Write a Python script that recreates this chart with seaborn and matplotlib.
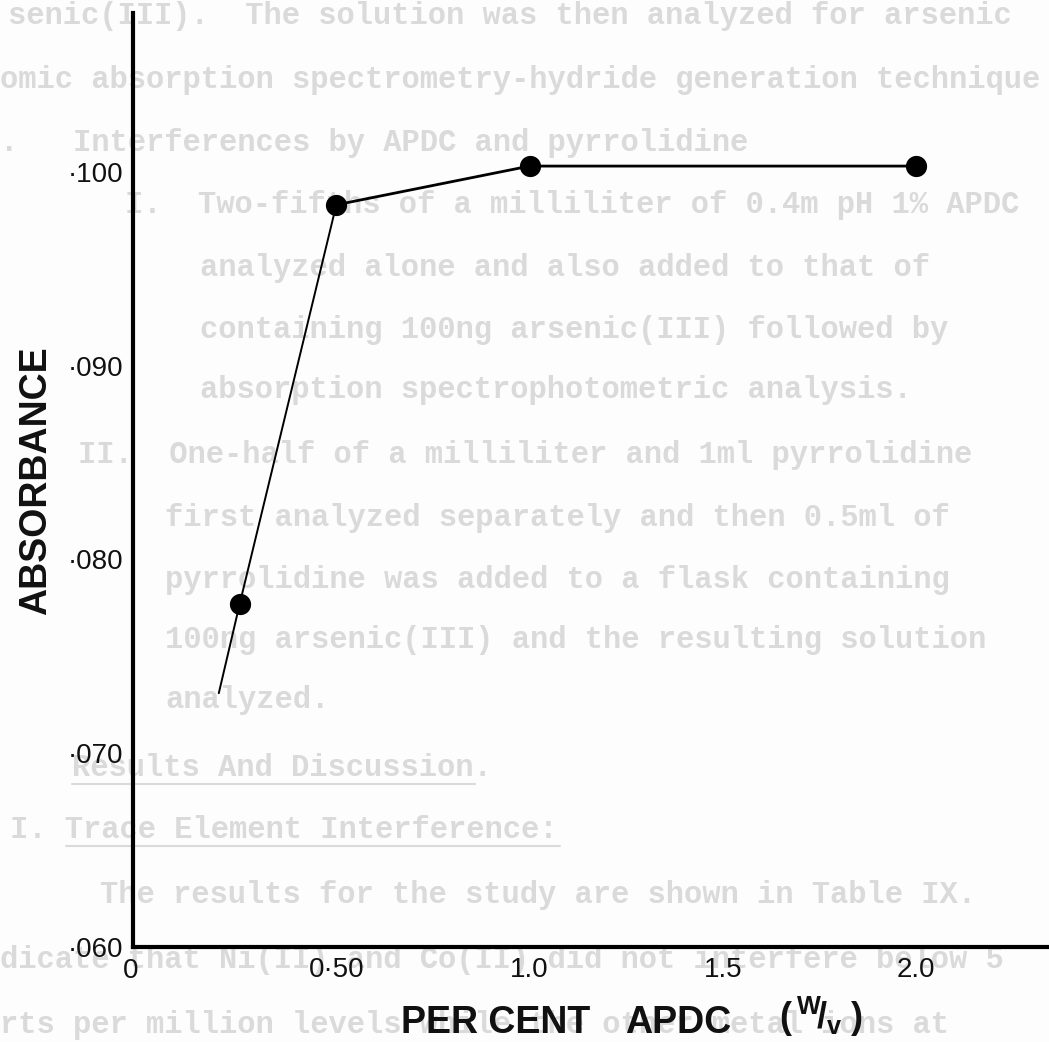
import matplotlib
matplotlib.use("Agg")
import matplotlib.pyplot as plt
import seaborn as sns
from matplotlib.lines import Line2D

# ---- data ---------------------------------------------------------------
apdc_percent = [0.25, 0.50, 1.00, 2.00]
absorbance = [0.0777, 0.0983, 0.1003, 0.1003]

# hand-drawn curve: steep branch (extended a little below the first reading)
steep_percent = [0.196, 0.25, 0.50]
steep_absorbance = [0.0731, 0.0777, 0.0983]
# plateau branch
flat_percent = [0.50, 1.00, 2.00]
flat_absorbance = [0.0983, 0.1003, 0.1003]

y_ticks = [0.060, 0.065, 0.070, 0.075, 0.080, 0.085, 0.090, 0.095, 0.100, 0.105]
y_tick_labels = ["·060", "", "·070", "", "·080", "", "·090", "", "·100", ""]
x_ticks = [0.25, 0.50, 0.75, 1.00, 1.25, 1.50, 1.75, 2.00, 2.25]
x_tick_labels = ["", "0·50", "", "1.0", "", "1.5", "", "2.0", ""]
origin_label = "0"

# typed page text showing through the sheet
page_lines = [
    (8, 16, "senic(III).  The solution was then analyzed for arsenic"),
    (0, 80, "omic absorption spectrometry-hydride generation technique"),
    (0, 143, ".   Interferences by APDC and pyrrolidine"),
    (125, 205, "I.  Two-fifths of a milliliter of 0.4m pH 1% APDC"),
    (200, 268, "analyzed alone and also added to that of"),
    (200, 330, "containing 100ng arsenic(III) followed by"),
    (200, 390, "absorption spectrophotometric analysis."),
    (78, 455, "II.  One-half of a milliliter and 1ml pyrrolidine"),
    (165, 518, "first analyzed separately and then 0.5ml of"),
    (165, 580, "pyrrolidine was added to a flask containing"),
    (165, 640, "100ng arsenic(III) and the resulting solution"),
    (165, 700, "analyzed."),
    (72, 768, "Results And Discussion."),
    (10, 830, "I. Trace Element Interference:"),
    (100, 895, "The results for the study are shown in Table IX."),
    (0, 960, "dicate that Ni(II) and Co(II) did not interfere below 5"),
    (0, 1025, "rts per million levels while the other metal ions at"),
]
underlined = [(72, 768, 22), (66, 830, 27)]

# ---- figure -------------------------------------------------------------
W, H = 1049, 1042
sns.set_theme(style="white")
plt.rcParams["font.family"] = ["Liberation Sans", "DejaVu Sans"]
plt.rcParams["mathtext.fontset"] = "custom"
plt.rcParams["mathtext.rm"] = "Liberation Sans:bold"
plt.rcParams["mathtext.it"] = "Liberation Sans:bold"
plt.rcParams["mathtext.bf"] = "Liberation Sans:bold"

fig = plt.figure(figsize=(W / 100, H / 100), dpi=100)
fig.patch.set_facecolor("#fdfdfd")

def fx(px):
    return px / W

def fy(py):
    return 1 - py / H

pitch = 18.3
page_grey = "#dadada"
for x0, y0, txt in page_lines:
    fig.text(fx(x0), fy(y0), txt, ha="left", va="center",
             family=["Liberation Mono", "DejaVu Sans Mono"], fontweight="bold",
             fontsize=22, color=page_grey, zorder=-2)
for x0, y0, n in underlined:
    fig.add_artist(Line2D([fx(x0), fx(x0 + n * pitch)], [fy(y0 + 16)] * 2,
                          color=page_grey, lw=1.5, zorder=-2))

ax = fig.add_axes([fx(133), fy(947), fx(1049) - fx(133), fy(13) - fy(947)])
ax.patch.set_alpha(0)

sns.lineplot(x=steep_percent, y=steep_absorbance, ax=ax, color="black",
             lw=1.4, sort=False, zorder=3)
sns.lineplot(x=flat_percent, y=flat_absorbance, ax=ax, color="black",
             lw=2.0, sort=False, zorder=3)
sns.scatterplot(x=apdc_percent, y=absorbance, ax=ax, color="black",
                s=200, marker="o", edgecolor="black", zorder=4)

ax.set_xlim(-0.026, 2.344)
ax.set_ylim(0.060, 0.1082)

for side in ("top", "right"):
    ax.spines[side].set_visible(False)
for side in ("left", "bottom"):
    ax.spines[side].set_color("black")
    ax.spines[side].set_linewidth(3.0)

ink = "#111111"
ax.set_yticks(y_ticks)
ax.set_yticklabels(y_tick_labels)
ax.set_xticks(x_ticks)
ax.set_xticklabels(x_tick_labels)
ax.tick_params(axis="y", direction="in", length=19, width=2.9, color="black",
               labelsize=20, pad=7, labelcolor=ink)
ax.tick_params(axis="x", direction="in", length=21, width=2.3, color="black",
               labelsize=20, pad=7, labelcolor=ink)
ax.text(-0.003, -0.012, origin_label, transform=ax.transAxes, ha="center",
        va="top", fontsize=20, color=ink)
ax.set_xlabel("")
ax.set_ylabel("")

# axis titles
fig.text(fx(36), fy(481), "ABSORBANCE", rotation=90, ha="center", va="center",
         fontsize=27, fontweight="bold", color=ink)
title_font = dict(color=ink, fontweight="bold")
fig.text(fx(401), fy(1023), "PER CENT", ha="left", va="center",
         fontsize=27, **title_font)
fig.text(fx(625), fy(1023), "APDC", ha="left", va="center",
         fontsize=27, **title_font)
fig.text(fx(779), fy(1017), r"$(\,^{\mathrm{W}}\!/_{\mathrm{v}}\;)$", ha="left",
         va="center", fontsize=26, **title_font)

fig.savefig("out.png", dpi=100, facecolor=fig.get_facecolor())
